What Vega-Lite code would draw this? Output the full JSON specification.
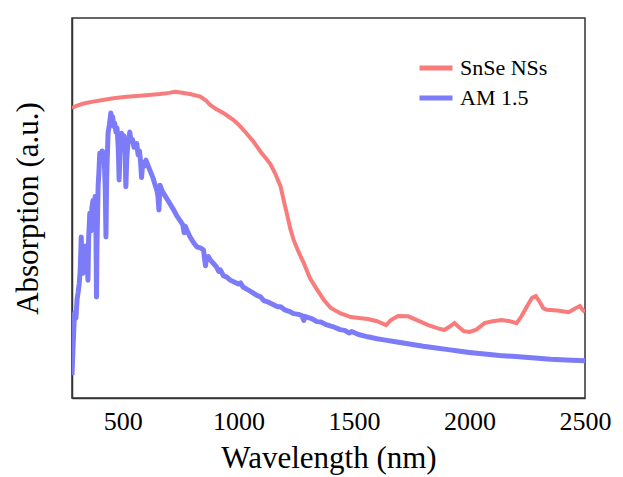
{
  "$schema": "https://vega.github.io/schema/vega-lite/v6.json",
  "autosize": {"type": "none"},
  "width": 513,
  "height": 380,
  "padding": {"left": 72, "top": 18, "right": 38, "bottom": 79},
  "background": "white",
  "config": {
    "view": {"stroke": "#333333", "strokeWidth": 1.5},
    "font": "Liberation Serif"
  },
  "datasets": {
    "snse": [
      [280, 76.3], [300, 76.9], [330, 77.5], [371, 78], [420, 78.5], [460, 78.9], [516, 79.3], [560, 79.5], [600, 79.7], [661, 80], [700, 80.3], [726, 80.6], [750, 80.4], [790, 80], [835, 79.3], [860, 78.3], [878, 77.1], [900, 76.2], [940, 74.8], [978, 73.2], [1000, 72], [1030, 70], [1065, 67.5], [1096, 64.8], [1120, 63], [1139, 61.5], [1160, 59], [1183, 55.6], [1200, 51], [1212, 48], [1225, 44.5], [1239, 41.6], [1260, 38.5], [1283, 35.5], [1310, 31.5], [1342, 28.4], [1370, 25.8], [1400, 23.7], [1440, 22.3], [1487, 21.3], [1530, 21], [1561, 20.8], [1600, 20.2], [1639, 19.2], [1660, 20.5], [1691, 21.6], [1735, 21.5], [1780, 20.3], [1822, 19.2], [1860, 18.4], [1891, 17.9], [1915, 18.8], [1935, 19.7], [1955, 18.6], [1975, 17.6], [2000, 17.4], [2030, 18], [2065, 19.7], [2100, 20.2], [2139, 20.5], [2175, 20.2], [2204, 19.7], [2225, 21.5], [2248, 24], [2270, 26.3], [2287, 26.8], [2305, 25.2], [2320, 23.6], [2335, 23.2], [2380, 23], [2430, 22.6], [2455, 23.5], [2478, 24.2], [2490, 23.2], [2500, 22.6]
    ],
    "am": [
      [280, 6], [283, 10.9], [287, 17], [291, 22.4], [297, 21], [302, 26], [306, 27.6], [311, 30], [315, 33], [318, 38], [320, 42.4], [323, 36], [327, 32.8], [332, 38], [336, 35], [340, 40], [345, 37], [349, 31], [352, 42], [357, 48.6], [362, 44], [366, 50], [371, 52], [376, 47], [380, 53], [384, 42], [386, 26.6], [388, 40], [393, 55.6], [397, 60], [400, 64.4], [405, 63], [410, 65], [414, 64.8], [420, 62], [424, 55], [427, 42.4], [430, 58], [436, 69.7], [442, 72], [448, 75], [452, 73], [456, 74], [460, 71.5], [465, 72.3], [470, 70], [475, 71], [480, 66], [484, 57.4], [488, 66], [494, 69.7], [500, 68], [505, 69], [510, 64], [513, 55.6], [517, 63], [522, 67], [526, 68], [530, 70], [536, 67.5], [542, 68], [548, 66], [553, 67], [560, 67], [566, 64], [572, 65], [577, 62], [581, 58], [586, 62], [592, 61], [600, 62.6], [610, 61], [620, 59.5], [630, 58], [640, 56], [648, 54.5], [652, 53], [656, 49.5], [661, 56], [670, 54.5], [685, 53], [700, 51.5], [720, 49.5], [733, 48], [750, 46.5], [760, 45.5], [765, 43.5], [770, 45.2], [777, 44.2], [790, 42.5], [805, 41], [820, 39.8], [835, 39.5], [849, 39], [855, 36], [858, 34.8], [862, 37], [870, 37.2], [880, 36.2], [895, 35.2], [905, 34.5], [915, 33.3], [922, 33.7], [935, 32.2], [950, 31.8], [965, 31], [980, 30.6], [1000, 30], [1009, 30.3], [1020, 29.2], [1040, 28.5], [1060, 27.8], [1080, 27], [1096, 26.6], [1110, 25.6], [1130, 25.2], [1150, 24.6], [1170, 24], [1183, 24], [1200, 23.2], [1220, 22.8], [1240, 22.2], [1260, 22], [1275, 21.7], [1283, 20.4], [1288, 21.5], [1300, 21.2], [1320, 20.8], [1340, 20.1], [1357, 20], [1380, 19.3], [1400, 18.9], [1413, 18.7], [1440, 18], [1460, 17.8], [1480, 17.1], [1490, 17.5], [1520, 16.7], [1560, 16.1], [1600, 15.6], [1630, 15.3], [1680, 14.8], [1740, 14.2], [1800, 13.6], [1848, 13.2], [1900, 12.8], [1960, 12.3], [2000, 12], [2065, 11.6], [2130, 11.2], [2200, 10.9], [2283, 10.5], [2350, 10.2], [2420, 10], [2500, 9.8]
    ],
    "majorTicks": [{"wavelength": 500}, {"wavelength": 1000}, {"wavelength": 1500}, {"wavelength": 2000}, {"wavelength": 2500}],
    "minorTicks": [{"wavelength": 750}, {"wavelength": 1250}, {"wavelength": 1750}, {"wavelength": 2250}]
  },
  "encoding": {
    "x": {
      "field": "wavelength",
      "type": "quantitative",
      "scale": {"domain": [280, 2500], "nice": false, "zero": false},
      "axis": {
        "title": "Wavelength (nm)",
        "values": [500, 1000, 1500, 2000, 2500],
        "format": "d",
        "grid": false,
        "domainColor": "#333333",
        "domainWidth": 1.5,
        "ticks": false,
        "labelPadding": 10,
        "labelFontSize": 26,
        "labelColor": "#000000",
        "labelFont": "Liberation Serif",
        "labelFlush": false,
        "titleFont": "Liberation Serif",
        "titleFontSize": 31,
        "titleFontWeight": "normal",
        "titleColor": "#000000",
        "titlePadding": 9
      }
    },
    "y": {
      "field": "value",
      "type": "quantitative",
      "scale": {"domain": [0, 100], "nice": false},
      "axis": {
        "title": "Absorption (a.u.)",
        "labels": false,
        "ticks": false,
        "grid": false,
        "domainColor": "#333333",
        "domainWidth": 1.5,
        "titleFont": "Liberation Serif",
        "titleFontSize": 31,
        "titleFontWeight": "normal",
        "titleColor": "#000000",
        "titlePadding": 28
      }
    },
    "color": {
      "field": "series",
      "type": "nominal",
      "scale": {"domain": ["SnSe NSs", "AM 1.5"], "range": ["#F87C7C", "#7C7CF8"]},
      "legend": {
        "title": null,
        "orient": "none",
        "legendX": 345,
        "legendY": 31,
        "padding": 0,
        "symbolType": "stroke",
        "symbolSize": 1089,
        "symbolStrokeWidth": 5,
        "labelFont": "Liberation Serif",
        "labelFontSize": 22,
        "labelColor": "#000000",
        "labelOffset": 5,
        "rowPadding": 0
      }
    }
  },
  "layer": [
    {
      "data": {"name": "snse"},
      "transform": [
        {"calculate": "datum[0]", "as": "wavelength"},
        {"calculate": "datum[1]", "as": "value"},
        {"calculate": "'SnSe NSs'", "as": "series"}
      ],
      "mark": {"type": "line", "strokeWidth": 4, "clip": true}
    },
    {
      "data": {"name": "am"},
      "transform": [
        {"calculate": "datum[0]", "as": "wavelength"},
        {"calculate": "datum[1]", "as": "value"},
        {"calculate": "'AM 1.5'", "as": "series"}
      ],
      "mark": {"type": "line", "strokeWidth": 5, "clip": true, "strokeJoin": "round"}
    },
    {
      "data": {"name": "majorTicks"},
      "mark": {"type": "rule", "strokeWidth": 2},
      "encoding": {
        "y": {"datum": 0},
        "y2": {"datum": 2.1},
        "color": {"value": "#222222"}
      }
    },
    {
      "data": {"name": "minorTicks"},
      "mark": {"type": "rule", "strokeWidth": 2},
      "encoding": {
        "y": {"datum": 0},
        "y2": {"datum": 1.2},
        "color": {"value": "#222222"}
      }
    }
  ]
}
